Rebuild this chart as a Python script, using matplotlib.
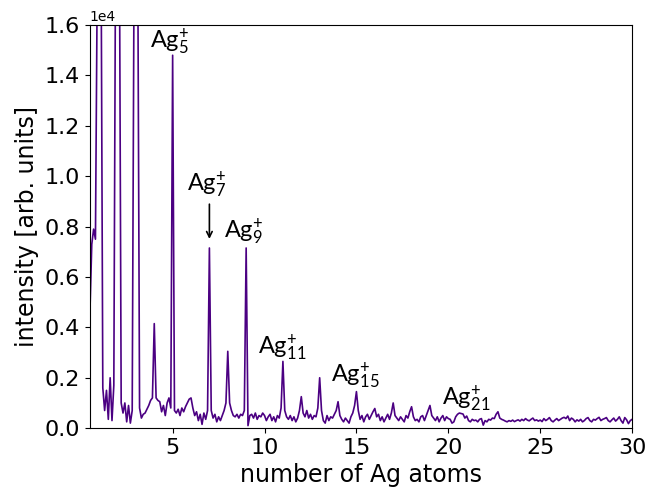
import numpy as np
import matplotlib
matplotlib.use("Agg")
import matplotlib.pyplot as plt

plt.rcParams['mathtext.fontset'] = 'custom'
plt.rcParams['mathtext.rm'] = 'Lato'
plt.rcParams['mathtext.default'] = 'regular'

# number of Ag atoms (m/z divided by the Ag mass), step 0.1
n_atoms = np.round(np.arange(0.5, 30.05, 0.1), 1)

# intensity, one row per unit of n
intensity = np.array(
    [4600, 7300, 7900, 7500, 18000]
    + [60000, 20000, 1600, 700, 1500, 350, 2000, 300, 1700, 20000]
    + [60000, 20000, 1000, 600, 1000, 250, 900, 200, 700, 18000]
    + [60000, 19000, 800, 400, 550, 600, 750, 900, 1100, 1200]
    + [4150, 1200, 1100, 1050, 650, 900, 500, 1000, 1200, 800]
    + [14800, 700, 600, 750, 500, 800, 650, 850, 1000, 1150]
    + [1200, 800, 500, 650, 300, 550, 150, 600, 350, 700]
    + [7150, 700, 400, 550, 250, 450, 300, 500, 700, 1000]
    + [3050, 1000, 700, 500, 450, 550, 400, 550, 500, 700]
    + [7150, 100, 500, 550, 400, 600, 350, 500, 450, 600]
    + [500, 300, 450, 550, 300, 450, 250, 500, 400, 800]
    + [2650, 700, 450, 350, 500, 300, 450, 250, 400, 700]
    + [1250, 600, 450, 700, 400, 550, 350, 500, 450, 800]
    + [2000, 700, 300, 200, 500, 300, 450, 400, 550, 700]
    + [1050, 500, 350, 250, 400, 300, 200, 450, 600, 900]
    + [1450, 700, 350, 500, 250, 450, 550, 350, 500, 650]
    + [780, 450, 550, 300, 450, 250, 400, 550, 350, 600]
    + [1000, 500, 400, 300, 450, 350, 250, 500, 400, 650]
    + [850, 450, 300, 350, 250, 450, 500, 300, 500, 700]
    + [900, 500, 400, 300, 450, 250, 400, 500, 300, 450]
    + [380, 350, 200, 250, 450, 550, 600, 580, 560, 400]
    + [480, 300, 250, 350, 300, 320, 250, 350, 380, 120]
    + [300, 250, 350, 320, 400, 380, 550, 650, 400, 350]
    + [320, 280, 250, 300, 270, 320, 260, 300, 330, 280]
    + [350, 300, 380, 320, 290, 350, 400, 300, 330, 280]
    + [320, 260, 380, 300, 350, 420, 300, 250, 320, 380]
    + [300, 350, 400, 430, 380, 480, 300, 400, 350, 250]
    + [330, 280, 350, 250, 300, 380, 420, 300, 250, 350]
    + [320, 380, 430, 300, 350, 380, 420, 300, 250, 330]
    + [400, 280, 350, 450, 300, 200, 420, 330, 180, 300]
    + [350]
)

# cluster labels: size, label x, label y
label_sizes = [5, 7, 9, 11, 15, 21]
label_x = [4.85, 6.85, 8.85, 10.95, 14.95, 21.0]
label_y = [15300, 9650, 7750, 3150, 2050, 1150]

fig = plt.figure(figsize=(6.47, 4.91), dpi=100)
ax = fig.add_axes([0.139, 0.128, 0.838, 0.821])

ax.plot(n_atoms, intensity, color='#4b0082', linewidth=1.2)

ax.set_xlim(0.5, 30)
ax.set_ylim(0, 16000)
ax.ticklabel_format(axis='y', style='sci', scilimits=(4, 4))
ax.tick_params(labelsize=16)
ax.set_xlabel('number of Ag atoms', fontsize=17)
ax.set_ylabel('intensity [arb. units]', fontsize=17)

for n, tx, ty in zip(label_sizes, label_x, label_y):
    ax.text(tx, ty, 'Ag$_{%d}^{+}$' % n, fontsize=17, family='Lato',
            ha='center', va='center')

# arrow pointing at the Ag7 peak
ax.annotate('', xy=(7, 7400), xytext=(7, 9000),
            arrowprops=dict(arrowstyle='->', color='black', lw=1.2))

fig.savefig('out.png', dpi=100)
